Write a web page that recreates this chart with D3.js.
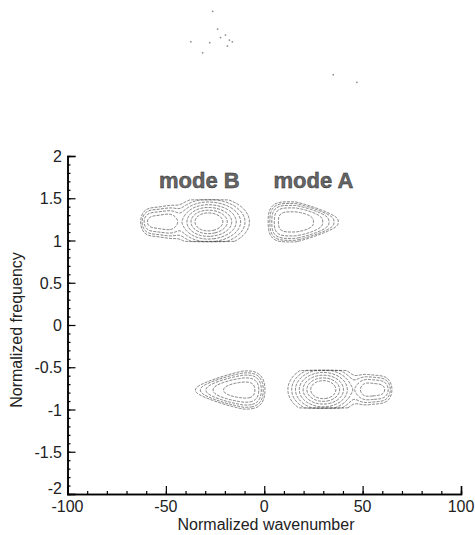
<!DOCTYPE html>
<html>
<head>
<meta charset="utf-8">
<script src="https://cdn.jsdelivr.net/npm/d3@7"></script>
<style>
  body { margin: 0; background: #fff; }
  svg { display: block; font-family: "Liberation Sans", Arial, sans-serif; }
</style>
</head>
<body>
<div id="chart"></div>
<script>
// axis ticks
var xTicks = [-100, -50, 0, 50, 100];
var yTicks = [-2, -1.5, -1, -0.5, 0, 0.5, 1, 1.5, 2];

// spectral lobes (wavenumber / frequency units)
// sxL,sxR = widths left/right, qx*,qy = profile exponents, radial = cone-like lobe,
// band = frequency window the lobe is cut to (flat edges), taper = pointed tail
var modeBUpper = [
    {x: -28.5, y: 1.22, amp: 1.0, sxL: 6.3, sxR: 7.0, sy: 0.1, radial: true, band: [0.985, 1.48]},
    {x: -53.4, y: 1.22, amp: 0.15, sxL: 9, qxL: 4, sxR: 9, qxR: 4, sy: 0.15, qy: 2}
];
var modeAUpper = [
    {x: 16, y: 1.22, amp: 0.22, sxL: 12.3, qxL: 4.4, sxR: 18.2, qxR: 2.3, sy: 0.206, qy: 2.9, taperR: 0.45}
];
var modeBLower = [
    {x: -10.5, y: -0.77, amp: 0.22, sxL: 20.6, qxL: 2.3, sxR: 9.3, qxR: 3.2, sy: 0.19, qy: 2.3, taperL: 0.45}
];
var modeALower = [
    {x: 30, y: -0.765, amp: 1.0, sxL: 6.0, sxR: 6.0, sy: 0.1, radial: true, band: [-0.985, -0.535]},
    {x: 56, y: -0.765, amp: 0.15, sxL: 8.5, qxL: 3.5, sxR: 8.5, qxR: 3.5, sy: 0.15, qy: 2}
];

// contour levels
var levels = [0.05, 0.069, 0.095, 0.131, 0.181, 0.25, 0.345];

// mode labels
var modeLabels = [
    {text: "mode B", x: -33, y: 1.62},
    {text: "mode A", x: 25, y: 1.62}
];

// scan specks above the plot
var specks = [[-26.6, 3.72], [-24.1, 3.51], [-22.6, 3.41], [-20.1, 3.44], [-18.1, 3.38],
    [-16.6, 3.36], [-19.1, 3.31], [-28.1, 3.35], [-37.7, 3.36], [-31.7, 3.23],
    [34.7, 2.97], [46.7, 2.88]];

var width = 475, height = 535;

var svg = d3.select("#chart").append("svg")
    .attr("width", width)
    .attr("height", height);

var x = d3.scaleLinear().domain([-100, 100]).range([67.5, 461]);
var y = d3.scaleLinear().domain([-2, 2]).range([494, 156]);

function lobeValue(l, fx, fy){
    if (l.band && (fy < l.band[0] || fy > l.band[1])) return 0;
    var dx = fx - l.x, dy = fy - l.y;
    var left = dx < 0;
    var rx = Math.abs(dx) / (left ? l.sxL : l.sxR);
    if (l.radial) {
        return l.amp * Math.exp(-Math.sqrt(rx * rx + (dy / l.sy) * (dy / l.sy)));
    }
    var qx = left ? l.qxL : l.qxR;
    var taper = (left ? l.taperL : l.taperR) || 0;
    var ry = Math.abs(dy) / (l.sy * Math.max(0.15, 1 - taper * rx));
    return l.amp * Math.exp(-Math.pow(rx, qx) - Math.pow(ry, l.qy));
}

//build the field on a grid
var nx = 401, ny = 401;
var dx = 200 / (nx - 1), dy = 4 / (ny - 1);
var lobes = modeBUpper.concat(modeAUpper, modeBLower, modeALower);
var values = new Float64Array(nx * ny);
for (var j = 0; j < ny; j++) {
    var fy = 2 - j * dy;
    for (var i = 0; i < nx; i++) {
        var fx = -100 + i * dx;
        var v = 0;
        lobes.forEach(function(l){ v += lobeValue(l, fx, fy); });
        values[j * nx + i] = v;
    }
}

var contours = d3.contours().size([nx, ny]).thresholds(levels)(values);

var proj = d3.geoTransform({
    point: function(gx, gy){
        this.stream.point(x(-100 + (gx - 0.5) * dx), y(2 - (gy - 0.5) * dy));
    }
});
var path = d3.geoPath(proj);

svg.append("g")
    .selectAll("path")
    .data(contours)
    .enter().append("path")
    .attr("d", path)
    .attr("fill", "none")
    .attr("stroke", "#444")
    .attr("stroke-width", 0.8)
    .attr("stroke-dasharray", "3,1.2")
    .attr("stroke-opacity", 0.85);

// labels
svg.selectAll(".modeLabel")
    .data(modeLabels)
    .enter().append("text")
    .attr("class", "modeLabel")
    .attr("x", function(d){ return x(d.x); })
    .attr("y", function(d){ return y(d.y); })
    .attr("text-anchor", "middle")
    .style("font-size", "22px")
    .style("font-weight", "bold")
    .attr("fill", "#666")
    .attr("stroke", "#222")
    .attr("stroke-width", 0.4)
    .text(function(d){ return d.text; });

svg.selectAll(".speck")
    .data(specks)
    .enter().append("rect")
    .attr("class", "speck")
    .attr("x", function(d){ return x(d[0]); })
    .attr("y", function(d){ return y(d[1]); })
    .attr("width", 1.5)
    .attr("height", 1.5)
    .attr("fill", "#888");

// axes, ticks pointing inward
var xAxis = d3.axisTop(x).tickValues(xTicks).tickSize(8).tickFormat("");
var xMinor = d3.axisTop(x).tickValues(d3.range(-90, 100, 10)).tickSize(3).tickFormat("");
var yAxis = d3.axisRight(y).tickValues(yTicks).tickSize(8).tickFormat("");
var yMinor = d3.axisRight(y).tickValues(d3.range(-1.9, 2, 0.1)).tickSize(3).tickFormat("");

var gx = svg.append("g").attr("transform", "translate(0," + y(-2) + ")");
gx.call(xMinor);
gx.append("g").call(xAxis);
var gy = svg.append("g").attr("transform", "translate(" + x(-100) + ",0)");
gy.call(yMinor);
gy.append("g").call(yAxis);

svg.selectAll(".domain").attr("stroke", "#000").attr("stroke-width", 1.5);
svg.selectAll(".tick line").attr("stroke", "#000").attr("stroke-width", 1.2);

svg.append("g").selectAll("text")
    .data(xTicks)
    .enter().append("text")
    .attr("x", function(d){ return x(d); })
    .attr("y", 512)
    .attr("text-anchor", "middle")
    .style("font-size", "16px")
    .attr("fill", "#222")
    .text(function(d){ return d; });

svg.append("g").selectAll("text")
    .data(yTicks)
    .enter().append("text")
    .attr("x", 62)
    .attr("y", function(d){ return y(d) + (d == -2 ? 0 : 6); })
    .attr("text-anchor", "end")
    .style("font-size", "16px")
    .attr("fill", "#222")
    .text(function(d){ return d; });

svg.append("text")
    .attr("x", 266)
    .attr("y", 530)
    .attr("text-anchor", "middle")
    .style("font-size", "16px")
    .attr("fill", "#222")
    .text("Normalized wavenumber");

svg.append("text")
    .attr("transform", "translate(22,330) rotate(-90)")
    .attr("text-anchor", "middle")
    .style("font-size", "16px")
    .attr("fill", "#222")
    .text("Normalized frequency");
</script>
</body>
</html>
